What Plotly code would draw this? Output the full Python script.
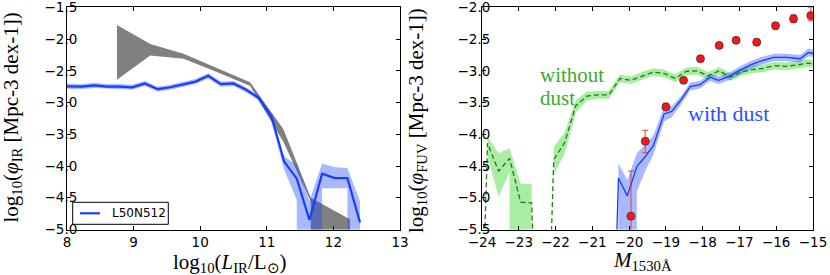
import plotly.graph_objects as go

W, H = 830, 275

# ---------------- Left panel: IR luminosity function ----------------
ir_x = [7.84, 8.03, 8.22, 8.41, 8.60, 8.79, 8.98, 9.17, 9.36, 9.55, 9.74, 9.93, 10.12,
        10.31, 10.50, 10.69, 10.88, 11.07, 11.26, 11.45, 11.64, 11.83, 12.02, 12.21, 12.40]
ir_y = [-2.74, -2.75, -2.75, -2.73, -2.75, -2.75, -2.76, -2.70, -2.79, -2.76, -2.72, -2.67, -2.58,
        -2.71, -2.70, -2.80, -2.93, -3.22, -3.93, -4.20, -4.85, -4.12, -4.19, -4.19, -4.89]
ir_hi_y = [-2.70, -2.71, -2.71, -2.69, -2.71, -2.71, -2.72, -2.66, -2.75, -2.72, -2.68, -2.63, -2.54,
           -2.67, -2.66, -2.76, -2.89, -3.19, -3.85, -3.98, -4.55, -3.96, -4.02, -4.03, -4.55]
ir_lo_x = [7.84, 8.03, 8.22, 8.41, 8.60, 8.79, 8.98, 9.17, 9.36, 9.55, 9.74, 9.93, 10.12,
           10.31, 10.50, 10.69, 10.88, 11.07, 11.26, 11.45, 11.45, 11.83, 11.83, 12.02, 12.21, 12.21, 12.40]
ir_lo_y = [-2.78, -2.79, -2.79, -2.77, -2.79, -2.79, -2.80, -2.74, -2.83, -2.80, -2.76, -2.71, -2.62,
           -2.75, -2.74, -2.84, -2.97, -3.30, -4.06, -4.54, -5.6, -5.6, -4.35, -4.35, -4.35, -5.6, -5.6]

# observational (grey) band
obs_hi_x = [8.75, 9.25, 9.75, 10.25, 10.75, 11.25, 11.66, 12.25]
obs_hi_y = [-1.78, -2.08, -2.23, -2.45, -2.68, -3.42, -4.50, -4.84]
obs_lo_x = [8.75, 9.25, 9.75, 10.25, 10.75, 11.25, 11.66, 11.66, 12.25]
obs_lo_y = [-2.64, -2.26, -2.31, -2.52, -2.74, -3.62, -4.56, -5.6, -5.6]

ir_xticks = [8, 9, 10, 11, 12, 13]
ir_yticks = [-5.0, -4.5, -4.0, -3.5, -3.0, -2.5, -2.0, -1.5]

# ---------------- Right panel: FUV luminosity function ----------------
nd_x = [-24.15, -23.85, -23.55, -23.25, -22.95, -22.65, -22.35, -22.05, -21.75, -21.45, -21.15,
        -20.85, -20.55, -20.25, -19.95, -19.65, -19.35, -19.05, -18.75, -18.45, -18.15, -17.85,
        -17.55, -17.25, -16.95, -16.65, -16.35, -16.05, -15.75, -15.45, -15.15, -14.85]
nd_y = [-10, -4.14, -4.58, -4.38, -5.07, -5.08, -10, -4.40, -4.13, -3.55, -3.40,
        -3.38, -3.38, -3.12, -3.15, -3.08, -3.02, -3.04, -3.12, -3.01, -3.00, -3.08,
        -3.00, -3.10, -3.02, -2.98, -2.96, -2.92, -2.93, -2.91, -2.88, -2.90]

ndA_hi_x = [-23.85, -23.55, -23.25, -22.95, -22.65]
ndA_hi_y = [-4.03, -4.30, -4.22, -4.78, -4.78]
ndA_lo_x = [-23.85, -23.55, -23.25, -23.25, -22.65]
ndA_lo_y = [-4.35, -4.98, -4.60, -5.8, -5.8]

ndB_x = [-22.05, -21.75, -21.45, -21.15, -20.85, -20.55, -20.25, -19.95, -19.65, -19.35, -19.05,
         -18.75, -18.45, -18.15, -17.85, -17.55, -17.25, -16.95, -16.65, -16.35, -16.05, -15.75,
         -15.45, -15.15, -14.85]
ndB_hi = [-4.20, -3.97, -3.46, -3.33, -3.32, -3.32, -3.06, -3.09, -3.02, -2.96, -2.98,
          -3.06, -2.95, -2.94, -3.02, -2.94, -3.04, -2.96, -2.92, -2.90, -2.86, -2.87,
          -2.85, -2.82, -2.84]
ndB_lo = [-4.64, -4.30, -3.66, -3.47, -3.44, -3.44, -3.18, -3.21, -3.14, -3.08, -3.10,
          -3.18, -3.07, -3.06, -3.14, -3.06, -3.16, -3.08, -3.04, -3.02, -2.98, -2.99,
          -2.97, -2.94, -2.96]

wd_x = [-20.56, -20.29, -20.05, -19.79, -19.56, -19.34, -19.05, -18.84, -18.59, -18.34, -18.07,
        -17.80, -17.57, -17.25, -16.98, -16.71, -16.44, -16.07, -15.71, -15.35, -15.12, -14.85]
wd_y = [-10, -4.69, -4.97, -4.51, -4.35, -4.18, -3.68, -3.64, -3.46, -3.25, -3.22,
        -3.10, -3.15, -3.08, -2.99, -2.91, -2.85, -2.79, -2.79, -2.81, -2.71, -2.75]
wd_hi_x = [-20.29, -20.05, -19.79, -19.56, -19.34, -19.05, -18.84, -18.59, -18.34, -18.07,
           -17.80, -17.57, -17.25, -16.98, -16.71, -16.44, -16.07, -15.71, -15.35, -15.12, -14.85]
wd_hi_y = [-4.46, -4.72, -4.30, -4.15, -4.02, -3.57, -3.56, -3.40, -3.19, -3.16,
           -3.04, -3.09, -3.02, -2.93, -2.85, -2.79, -2.73, -2.73, -2.75, -2.65, -2.69]
wd_lo_x = [-20.29, -19.79, -19.79, -19.56, -19.34, -19.05, -18.84, -18.59, -18.34, -18.07,
           -17.80, -17.57, -17.25, -16.98, -16.71, -16.44, -16.07, -15.71, -15.35, -15.12, -14.85]
wd_lo_y = [-5.8, -5.8, -4.90, -4.58, -4.32, -3.80, -3.73, -3.53, -3.31, -3.28,
           -3.16, -3.21, -3.14, -3.05, -2.97, -2.91, -2.85, -2.85, -2.87, -2.77, -2.81]

obs_M = [-19.95, -19.56, -19.00, -18.52, -18.06, -17.55, -17.09, -16.53, -16.02, -15.53, -15.06]
obs_phi = [-5.29, -4.11, -3.57, -3.15, -2.81, -2.60, -2.52, -2.55, -2.29, -2.18, -2.13]
obs_err_up = [0.71, 0.17, 0.06, 0.02, 0.02, 0.02, 0.02, 0.05, 0.05, 0.06, 0.13]
obs_err_dn = [1.00, 0.18, 0.04, 0.02, 0.02, 0.02, 0.02, 0.05, 0.05, 0.06, 0.08]

fuv_xticks = [-24, -23, -22, -21, -20, -19, -18, -17, -16, -15]
fuv_yticks = [-5.5, -5.0, -4.5, -4.0, -3.5, -3.0, -2.5, -2.0]

# ---------------- styles ----------------
BLUE = "rgb(25,60,255)"
BLUE_BAND = "rgba(30,70,255,0.38)"
GREY = "rgb(128,128,128)"
GREEN_LINE = "rgb(30,125,20)"
GREEN_BAND = "rgba(110,225,100,0.6)"
SERIF = "Liberation Serif"
SANS = "DejaVu Sans"


def poly(xh, yh, xl, yl):
    return list(xh) + list(xl)[::-1], list(yh) + list(yl)[::-1]


fig = go.Figure()

# left panel
px_, py_ = poly(obs_hi_x, obs_hi_y, obs_lo_x, obs_lo_y)
fig.add_trace(go.Scatter(x=px_, y=py_, fill="toself", fillcolor=GREY, mode="lines",
                         line=dict(width=0, color=GREY), hoverinfo="skip", showlegend=False,
                         xaxis="x", yaxis="y"))
px_, py_ = poly(ir_x, ir_hi_y, ir_lo_x, ir_lo_y)
fig.add_trace(go.Scatter(x=px_, y=py_, fill="toself", fillcolor=BLUE_BAND, mode="lines",
                         line=dict(width=0, color=BLUE_BAND), hoverinfo="skip", showlegend=False,
                         xaxis="x", yaxis="y"))
fig.add_trace(go.Scatter(x=ir_x, y=ir_y, mode="lines", line=dict(color=BLUE, width=2.2),
                         name="L50N512", showlegend=False, xaxis="x", yaxis="y"))

# right panel
px_, py_ = poly(ndA_hi_x, ndA_hi_y, ndA_lo_x, ndA_lo_y)
fig.add_trace(go.Scatter(x=px_, y=py_, fill="toself", fillcolor=GREEN_BAND, mode="lines",
                         line=dict(width=0, color=GREEN_BAND), hoverinfo="skip", showlegend=False,
                         xaxis="x2", yaxis="y2"))
px_, py_ = poly(ndB_x, ndB_hi, ndB_x, ndB_lo)
fig.add_trace(go.Scatter(x=px_, y=py_, fill="toself", fillcolor=GREEN_BAND, mode="lines",
                         line=dict(width=0, color=GREEN_BAND), hoverinfo="skip", showlegend=False,
                         xaxis="x2", yaxis="y2"))
px_, py_ = poly(wd_hi_x, wd_hi_y, wd_lo_x, wd_lo_y)
fig.add_trace(go.Scatter(x=px_, y=py_, fill="toself", fillcolor=BLUE_BAND, mode="lines",
                         line=dict(width=0, color=BLUE_BAND), hoverinfo="skip", showlegend=False,
                         xaxis="x2", yaxis="y2"))
fig.add_trace(go.Scatter(x=nd_x, y=nd_y, mode="lines",
                         line=dict(color=GREEN_LINE, width=1.3, dash="5px,3px"),
                         showlegend=False, xaxis="x2", yaxis="y2"))
fig.add_trace(go.Scatter(x=wd_x, y=wd_y, mode="lines", line=dict(color=BLUE, width=1.3),
                         showlegend=False, xaxis="x2", yaxis="y2"))
fig.add_trace(go.Scatter(x=obs_M, y=obs_phi, mode="markers",
                         marker=dict(size=8, color="rgb(255,20,20)", line=dict(color="#333", width=0.8)),
                         error_y=dict(type="data", symmetric=False, array=obs_err_up,
                                      arrayminus=obs_err_dn, color="rgba(240,40,40,0.75)",
                                      thickness=1.2, width=3),
                         showlegend=False, xaxis="x2", yaxis="y2"))

# axes
L_X0, L_X1 = 67 / W, 400 / W
R_X0, R_X1 = 482 / W, 813 / W
Y0, Y1 = 1 - 229.5 / H, 1 - 7.3 / H

axis_common = dict(showline=True, linecolor="black", linewidth=1, mirror="ticks",
                   ticks="inside", ticklen=4, tickwidth=1, tickcolor="black",
                   showgrid=False, zeroline=False, automargin=False,
                   ticklabeloverflow="allow",
                   tickfont=dict(family=SANS, size=13.5, color="black"))

fig.update_layout(
    width=W, height=H,
    margin=dict(l=0, r=0, t=0, b=0),
    template="none",
    paper_bgcolor="white", plot_bgcolor="white",
    showlegend=False,
    xaxis=dict(domain=[L_X0, L_X1], range=[8, 13], tickvals=ir_xticks, anchor="y", **axis_common),
    yaxis=dict(domain=[Y0, Y1], range=[-5, -1.5], tickvals=ir_yticks, tickformat=".1f",
               anchor="x", ticklabelstandoff=-14, **axis_common),
    xaxis2=dict(domain=[R_X0, R_X1], range=[-24, -15], tickvals=fuv_xticks, anchor="y2", **axis_common),
    yaxis2=dict(domain=[Y0, Y1], range=[-5.5, -2], tickvals=fuv_yticks, tickformat=".1f",
                anchor="x2", ticklabelstandoff=-12, **axis_common),
)

tfont = dict(family=SERIF, size=21, color="black")
ann = [
    dict(text="log<sub>10</sub>(<i>φ</i><sub>IR</sub> [Mpc-3 dex-1])", x=11.5 / W, y=1 - 118 / H,
         textangle=-90, font=tfont),
    dict(text="log<sub>10</sub>(<i>L</i><sub>IR</sub>/L<sub>⊙</sub>)", x=230 / W, y=1 - 263 / H,
         font=tfont),
    dict(text="log<sub>10</sub>(<i>φ</i><sub>FUV</sub> [Mpc-3 dex-1])", x=417 / W, y=1 - 120 / H,
         textangle=-90, font=tfont),
    dict(text="<i>M</i><sub>1530Å</sub>", x=642 / W, y=1 - 261 / H, font=tfont),
    dict(text="without", x=538 / W, y=1 - 75 / H, xanchor="left",
         font=dict(family=SERIF, size=21, color="rgb(60,170,40)")),
    dict(text="dust", x=538 / W, y=1 - 98 / H, xanchor="left",
         font=dict(family=SERIF, size=21, color="rgb(60,170,40)")),
    dict(text="with dust", x=728 / W, y=1 - 113 / H,
         font=dict(family=SERIF, size=22, color="rgb(40,80,255)")),
    dict(text="L50N512", x=110 / W, y=1 - 213.3 / H, xanchor="left",
         font=dict(family=SANS, size=12, color="black")),
]
for a in ann:
    a.setdefault("xanchor", "center")
    a.update(xref="paper", yref="paper", showarrow=False, yanchor="middle")
fig.update_layout(annotations=ann)

fig.update_layout(shapes=[
    dict(type="rect", xref="paper", yref="paper", x0=72.7 / W, x1=168.3 / W,
         y0=1 - 224.3 / H, y1=1 - 202.3 / H, line=dict(color="black", width=1),
         fillcolor="white", layer="above"),
    dict(type="line", xref="paper", yref="paper", x0=80 / W, x1=100 / W,
         y0=1 - 213.3 / H, y1=1 - 213.3 / H, line=dict(color=BLUE, width=2.2), layer="above"),
])

fig.write_html("out.html", config={"displayModeBar": False},
               post_script="document.body.style.margin='0';")
